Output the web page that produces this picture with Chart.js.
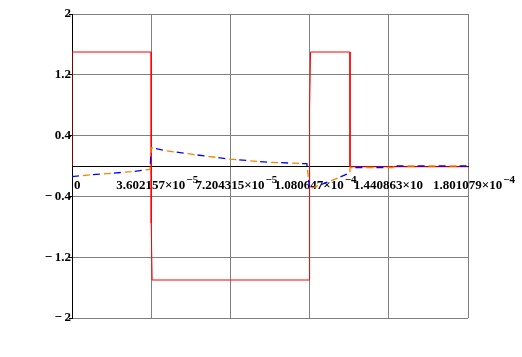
<!DOCTYPE html>
<html><head><meta charset="utf-8">
<script src="https://cdn.jsdelivr.net/npm/chart.js@4.4.1/dist/chart.umd.min.js"></script>
<style>html,body{margin:0;padding:0;background:#fff;}#wrap{width:522px;height:357px;}</style>
</head><body><div id="wrap"><canvas id="c" width="522" height="357"></canvas></div>
<script>
// x tick values and labels
const xTicks = [0, 3.602157e-5, 7.204315e-5, 1.080647e-4, 1.440863e-4, 1.801079e-4];
const xTickBase = ["0", "3.602157×10", "7.204315×10", "1.080647×10", "1.440863×10", "1.801079×10"];
const xTickExp = ["", "\u22125", "\u22125", "\u22124", "", "\u22124"];
// y ticks
const yTicks = [-2, -1.2, -0.4, 0.4, 1.2, 2];
const yTickLabels = ["\u2212\u20092", "\u2212\u20091.2", "\u2212\u20090.4", "0.4", "1.2", "2"];
// red series
const redT = [0, 0, 3.602e-5, 3.602e-5, 3.645e-5, 1.0806e-4, 1.0806e-4, 1.085e-4, 1.2644e-4, 1.2644e-4, 1.8011e-4];
const redV = [0, 1.5, 1.5, -0.75, -1.5, -1.5, 0.75, 1.5, 1.5, -0.01, -0.01];
// blue / orange dashed series (same values)
const dashT = [0, 9e-6, 1.8e-5, 2.7e-5, 3.55e-5, 3.602e-5, 4.3e-5, 5.7e-5, 7.2e-5, 8.9e-5, 1.068e-4, 1.0806e-4, 1.1e-4, 1.2e-4, 1.264e-4, 1.2644e-4, 1.46e-4, 1.465e-4, 1.8011e-4];
const dashV = [-0.14, -0.115, -0.095, -0.075, -0.045, 0.24, 0.2, 0.145, 0.09, 0.05, 0.03, -0.3, -0.28, -0.17, -0.09, -0.02, -0.02, 0, 0];

const pts = (t, v) => t.map((x, i) => ({x: x, y: v[i]}));
const FONT = '"Liberation Serif", "Times New Roman", serif';

const xLabelPlugin = {
  id: 'xlabels',
  beforeDatasetsDraw(chart) {
    const ctx = chart.ctx, xs = chart.scales.x, ys = chart.scales.y;
    const y0 = ys.getPixelForValue(0);
    ctx.save();
    ctx.fillStyle = '#000';
    ctx.textBaseline = 'alphabetic';
    ctx.textAlign = 'left';
    xTicks.forEach((v, i) => {
      const px = xs.getPixelForValue(v);
      const left = i === 0 ? px + 2 : px - 35;
      ctx.font = 'bold 13px ' + FONT;
      ctx.fillText(xTickBase[i], left, y0 + 23);
      const wb = ctx.measureText(xTickBase[i]).width;
      if (xTickExp[i]) {
        ctx.font = 'bold 11px ' + FONT;
        ctx.fillText(xTickExp[i], left + wb + 1, y0 + 17);
      }
    });
    ctx.restore();
  }
};

new Chart(document.getElementById('c'), {
  type: 'scatter',
  data: {
    datasets: [
      {data: pts(dashT, dashV), showLine: true, borderColor: 'rgb(255,128,0)', borderWidth: 1.3, borderDash: [7, 14], borderDashOffset: 10, pointRadius: 0, tension: 0, order: 0},
      {data: pts(dashT, dashV), showLine: true, borderColor: 'rgb(0,0,255)', borderWidth: 1.3, borderDash: [7, 14], pointRadius: 0, tension: 0, order: 1},
      {data: pts(redT, redV), showLine: true, borderColor: 'rgb(255,0,0)', borderWidth: 1, pointRadius: 0, tension: 0, order: 2}
    ]
  },
  options: {
    responsive: false,
    animation: false,
    events: [],
    layout: {padding: {left: 0, top: 14, right: 54, bottom: 39}},
    plugins: {legend: {display: false}, tooltip: {enabled: false}, title: {display: false}},
    scales: {
      x: {
        type: 'linear',
        position: {y: 0},
        min: 0, max: 1.801079e-4,
        afterBuildTicks: (s) => { s.ticks = xTicks.map(v => ({value: v})); },
        afterFit: (s) => { s.height = 0; },
        ticks: {display: false},
        grid: {color: (c) => (c.tick && c.tick.value === 0 ? 'rgba(0,0,0,0)' : '#808080'), lineWidth: 1, drawTicks: false},
        border: {color: '#000', width: 1}
      },
      y: {
        type: 'linear',
        position: 'left',
        min: -2, max: 2,
        afterBuildTicks: (s) => { s.ticks = yTicks.map(v => ({value: v})); },
        afterFit: (s) => { s.width = 72; },
        ticks: {
          padding: -2,
          color: '#000',
          font: {family: FONT, size: 13, weight: 'bold'},
          callback: (v) => { const i = yTicks.indexOf(v); return i >= 0 ? yTickLabels[i] : ''; }
        },
        grid: {color: '#808080', lineWidth: 1, tickLength: 3, tickColor: '#000'},
        border: {color: '#000', width: 1}
      }
    }
  },
  plugins: [xLabelPlugin]
});
</script>
</body></html>
